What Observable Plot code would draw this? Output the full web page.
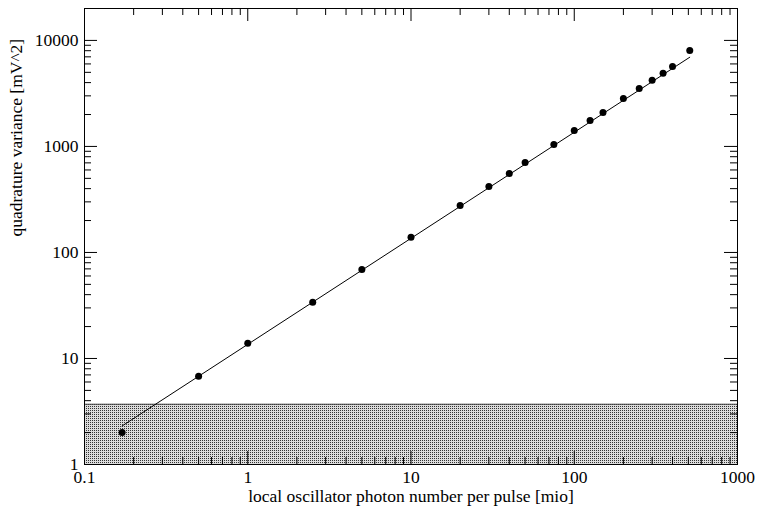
<!DOCTYPE html>
<html>
<head>
<meta charset="utf-8">
<script src="https://cdn.jsdelivr.net/npm/d3@7"></script>
<script src="https://cdn.jsdelivr.net/npm/@observablehq/plot@0.6"></script>
<style>
  html, body { margin: 0; padding: 0; background: #fff; }
  #chart svg { display: block; }
</style>
</head>
<body>
<div id="chart"></div>
<script>
// Measured quadrature variance versus local-oscillator photon number
const photons = [0.17, 0.5, 1, 2.5, 5, 10, 20, 30, 40, 50, 75, 100, 125, 150, 200, 250, 300, 350, 400, 510];
const variance = [2.0, 6.8, 13.9, 34, 69, 139, 277, 419, 556, 706, 1045, 1415, 1760, 2095, 2840, 3520, 4200, 4890, 5690, 8050];

// Linear fit (slope 1 on log-log axes), drawn between its two end points
const fitPhotons = [0.17, 510];
const fitVariance = [2.31, 6940];

// Electronic noise level band
const noiseX = [0.1, 1000];
const noiseY = [1, 3.7];

// Axis tick labels
const xTicks = [0.1, 1, 10, 100, 1000];
const yTicks = [1, 10, 100, 1000, 10000];
const xDomain = [0.1, 1000];
const yDomain = [1, 20000];

const xTitle = "local oscillator photon number per pulse [mio]";
const yTitle = "quadrature variance [mV^2]";

const points = photons.map((p, i) => ({x: p, y: variance[i]}));
const fit = fitPhotons.map((p, i) => ({x: p, y: fitVariance[i]}));
const band = [{x1: noiseX[0], x2: noiseX[1], y1: noiseY[0], y2: noiseY[1]}];

// Minor ticks at 2..9 within each decade
function minorTicks(lo, hi) {
  const out = [];
  for (let d = lo; d < hi; d *= 10) for (let k = 2; k <= 9; k++) out.push(+(d * k).toPrecision(3));
  return out;
}
const xMinor = minorTicks(xDomain[0], xDomain[1]);
const yMinor = minorTicks(yDomain[0], 10000).concat([20000].filter(v => v < yDomain[1]));

const W = 757, H = 508;
const mL = 84, mR = 20, mT = 8, mB = 44;
const plotW = W - mL - mR, plotH = H - mT - mB;
const major = 13, minor = 7;
const FS = 17.5;

const svg = Plot.plot({
  width: W,
  height: H,
  marginLeft: mL,
  marginRight: mR,
  marginTop: mT,
  marginBottom: mB,
  style: {fontFamily: "'Liberation Serif', 'Times New Roman', serif", fontSize: FS + "px", color: "black", background: "white"},
  x: {type: "log", domain: xDomain},
  y: {type: "log", domain: yDomain},
  marks: [
    Plot.rect(band, {x1: "x1", x2: "x2", y1: "y1", y2: "y2", fill: "url(#noisefill)"}),
    Plot.ruleY([noiseY[1]], {stroke: "#444", strokeWidth: 1}),
    Plot.line(fit, {x: "x", y: "y", stroke: "black", strokeWidth: 1}),
    Plot.dot(points, {x: "x", y: "y", r: 3.5, fill: "black"}),

    // inward ticks on all four sides
    Plot.tickX(xTicks, {x: d => d, insetTop: plotH - major, stroke: "black"}),
    Plot.tickX(xTicks, {x: d => d, insetBottom: plotH - major, stroke: "black"}),
    Plot.tickX(xMinor, {x: d => d, insetTop: plotH - minor, stroke: "black"}),
    Plot.tickX(xMinor, {x: d => d, insetBottom: plotH - minor, stroke: "black"}),
    Plot.tickY(yTicks, {y: d => d, insetRight: plotW - major, stroke: "black"}),
    Plot.tickY(yTicks, {y: d => d, insetLeft: plotW - major, stroke: "black"}),
    Plot.tickY(yMinor, {y: d => d, insetRight: plotW - minor, stroke: "black"}),
    Plot.tickY(yMinor, {y: d => d, insetLeft: plotW - minor, stroke: "black"}),

    Plot.axisX({ticks: xTicks, tickSize: 0, tickPadding: 6, tickFormat: d => String(d), label: null, fontSize: FS}),
    Plot.axisY({ticks: yTicks, tickSize: 0, tickPadding: 6, tickFormat: d => String(d), label: null, fontSize: FS}),

    Plot.text([xTitle], {text: d => d, frameAnchor: "bottom", lineAnchor: "bottom", dy: 37, fill: "black", fontSize: FS}),
    Plot.text([yTitle], {text: d => d, frameAnchor: "left", rotate: -90, dx: -68, fill: "black", fontSize: FS}),

    Plot.frame({stroke: "black", strokeWidth: 1})
  ]
});

// dotted grey fill for the noise band
d3.select(svg).insert("defs", ":first-child").html(
  '<pattern id="noisefill" patternUnits="userSpaceOnUse" width="2" height="2">' +
  '<rect width="2" height="2" fill="#dcdcdc"/>' +
  '<rect width="1" height="1" fill="#333"/>' +
  '</pattern>'
);

document.getElementById("chart").append(svg);
</script>
</body>
</html>
